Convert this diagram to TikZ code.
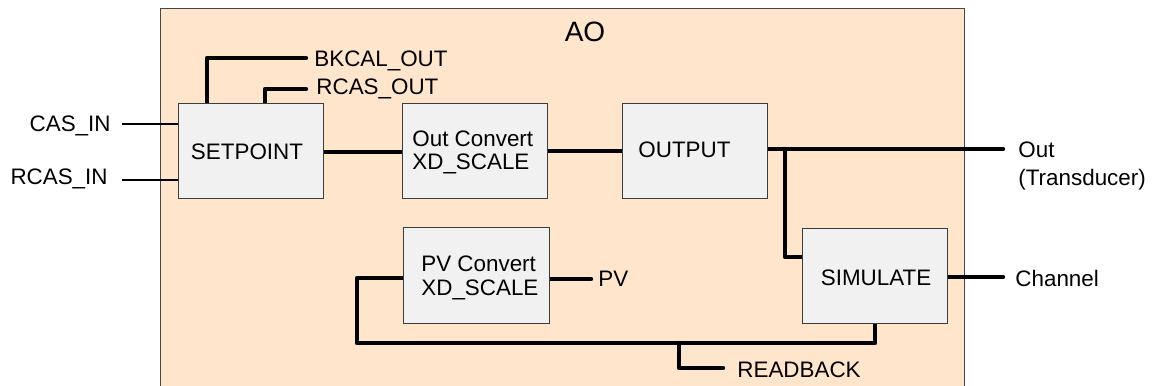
\documentclass[tikz,border=0pt]{standalone}
\usepackage{fontspec}
\setmainfont{Liberation Sans}
\definecolor{peach}{RGB}{255,229,204}
\definecolor{boxfill}{RGB}{241,241,241}
\definecolor{boxline}{RGB}{60,60,60}
\definecolor{frameline}{RGB}{70,70,70}
\begin{document}
\begin{tikzpicture}[x=0.5pt,y=-0.5pt,
  blk/.style={draw=boxline, fill=boxfill, line width=0.5pt, inner sep=0pt, minimum width=72pt, minimum height=47pt},
  lbl/.style={inner sep=0pt, font=\fontsize{11.2}{13.4}\selectfont},
  wire/.style={line width=2.2pt, line cap=round, line join=round},
  inwire/.style={line width=1.3pt}]
\useasboundingbox (0,0) rectangle (1154,385);
\clip (0,0) rectangle (1154,385);
\fill[white] (0,0) rectangle (1154,385);
% frame
\node[draw=frameline, fill=peach, line width=0.5pt, inner sep=0pt, minimum width=402pt, minimum height=200pt] (frame) at (562,209) {};
\node[font=\fontsize{14}{16}\selectfont, inner sep=0pt, anchor=base] (tao) at (585,42) {AO};
% coordinates
\coordinate (casL) at (122,124);
\coordinate (rcasL) at (122,180);
\coordinate (bkC) at (207,58); \coordinate (bkE) at (306,58);
\coordinate (rcC) at (265,89); \coordinate (rcE) at (306,89);
\coordinate (l1) at (0,152);
\coordinate (l2) at (0,151);
\coordinate (outE) at (1003,149);
\coordinate (br) at (785,149); \coordinate (brB) at (785,257);
\coordinate (chE) at (1003,277);
\coordinate (pvE) at (591,279);
\coordinate (lpR) at (875,343); \coordinate (lpL) at (357,343); \coordinate (lpT) at (357,278);
\coordinate (rbT) at (679,343); \coordinate (rbB) at (679,368); \coordinate (rbE) at (723,368);
% box placeholders for anchors
\path (251,151) node[blk, draw=none, fill=none] (sp) {};
\path (475,151) node[blk, draw=none, fill=none] (oc) {};
\path (695,151) node[blk, draw=none, fill=none] (op) {};
\path (476.5,275.5) node[blk, draw=none, fill=none, minimum width=72.5pt, minimum height=47.5pt] (pc) {};
\path (875,276) node[blk, draw=none, fill=none] (sim) {};
% wires
\draw[inwire] (casL) -- (casL -| sp.west);
\draw[inwire] (rcasL) -- (rcasL -| sp.west);
\draw[wire] (bkC |- sp.north) -- (bkC) -- (bkE);
\draw[wire] (rcC |- sp.north) -- (rcC) -- (rcE);
\draw[wire] (l1 -| sp.east) -- (l1 -| oc.west);
\draw[wire] (l2 -| oc.east) -- (l2 -| op.west);
\draw[wire] (outE -| op.east) -- (outE);
\draw[wire] (br) -- (brB) -- (brB -| sim.west);
\draw[wire] (chE -| sim.east) -- (chE);
\draw[wire] (pvE -| pc.east) -- (pvE);
\draw[wire] (lpR |- sim.south) -- (lpR) -- (lpL) -- (lpT) -- (lpT -| pc.west);
\draw[wire] (rbT) -- (rbB) -- (rbE);
% boxes
\draw[draw=boxline, fill=boxfill, line width=0.5pt] (sp.north west) rectangle (sp.south east);
\draw[draw=boxline, fill=boxfill, line width=0.5pt] (oc.north west) rectangle (oc.south east);
\draw[draw=boxline, fill=boxfill, line width=0.5pt] (op.north west) rectangle (op.south east);
\draw[draw=boxline, fill=boxfill, line width=0.5pt] (pc.north west) rectangle (pc.south east);
\draw[draw=boxline, fill=boxfill, line width=0.5pt] (sim.north west) rectangle (sim.south east);
% texts
\node[lbl, anchor=base east] (tcas) at (111,131) {CAS\_IN};
\node[lbl, anchor=base east] (trcas) at (108,184) {RCAS\_IN};
\node[lbl, anchor=base west] (tbk) at (314,67) {BKCAL\_OUT};
\node[lbl, anchor=base west] (trco) at (316,95) {RCAS\_OUT};
\node[lbl, anchor=base] (tsp) at (247,159) {SETPOINT};
\node[lbl, anchor=base west] (toc1) at (412,146) {Out Convert};
\node[lbl, anchor=base west] (toc2) at (412,169) {XD\_SCALE};
\node[lbl, anchor=base west] (top) at (638,157) {OUTPUT};
\node[lbl, anchor=base west] (tpc1) at (421,271) {PV Convert};
\node[lbl, anchor=base west] (tpc2) at (421,295) {XD\_SCALE};
\node[lbl, anchor=base] (tsim) at (876,285) {SIMULATE};
\node[lbl, anchor=base west] (tout1) at (1018,157) {Out};
\node[lbl, anchor=base west] (tout2) at (1018,185) {(Transducer)};
\node[lbl, anchor=base west] (tch) at (1015,286) {Channel};
\node[lbl, anchor=base west] (tpv) at (598,286) {PV};
\node[lbl, anchor=base west] (trb) at (737,377) {READBACK};
\end{tikzpicture}
\end{document}
